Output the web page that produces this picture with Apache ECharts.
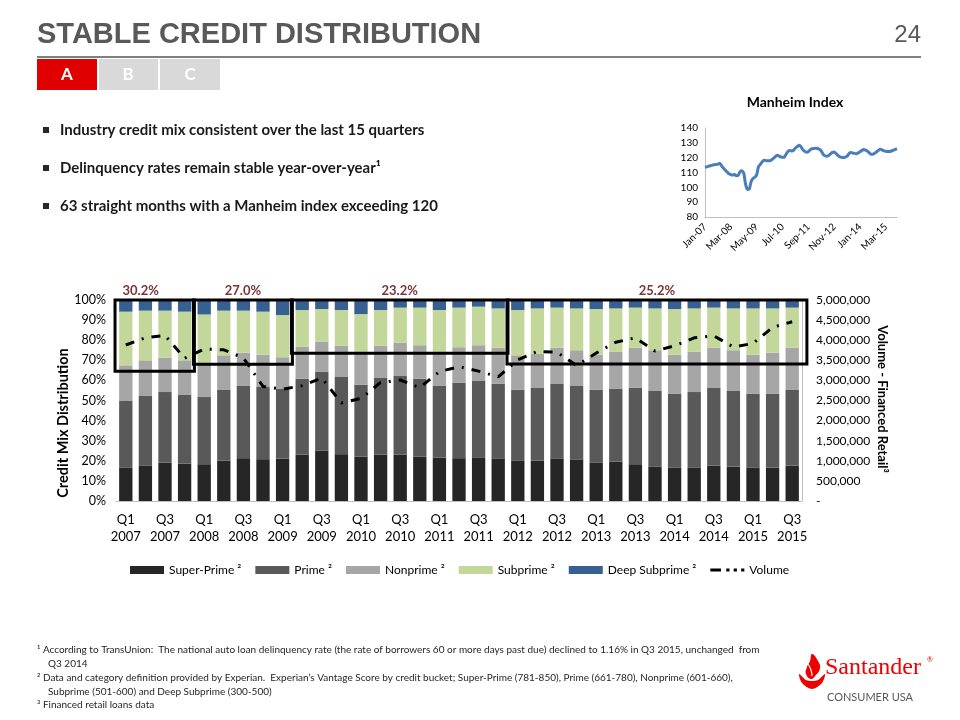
<!DOCTYPE html>
<html><head><meta charset="utf-8">
<script src="https://cdn.jsdelivr.net/npm/echarts@6/dist/echarts.min.js"></script>
<style>html,body{margin:0;padding:0;background:#fff}#c{width:960px;height:720px}#err{position:absolute;left:250px;top:230px;width:700px;font:10px monospace;color:#c00;white-space:pre-wrap}</style>
</head><body><div id="c"></div><div id="err"></div>
<script>
const quarters = ['Q1 2007','Q2 2007','Q3 2007','Q4 2007','Q1 2008','Q2 2008','Q3 2008','Q4 2008',
  'Q1 2009','Q2 2009','Q3 2009','Q4 2009','Q1 2010','Q2 2010','Q3 2010','Q4 2010',
  'Q1 2011','Q2 2011','Q3 2011','Q4 2011','Q1 2012','Q2 2012','Q3 2012','Q4 2012',
  'Q1 2013','Q2 2013','Q3 2013','Q4 2013','Q1 2014','Q2 2014','Q3 2014','Q4 2014',
  'Q1 2015','Q2 2015','Q3 2015'];
const superPrime = [16.7,17.7,19.0,18.5,18.3,20.0,21.3,20.8,21.0,23.0,25.0,23.3,22.0,23.0,23.0,22.0,21.5,21.3,21.7,21.2,20.2,20.0,21.2,20.7,19.2,19.5,18.3,17.2,16.7,16.7,17.5,17.0,16.7,16.5,17.5];
const prime      = [33.3,34.8,35.2,34.5,33.4,35.5,36.2,35.9,34.8,37.8,39.2,38.4,35.8,38.2,39.2,38.8,36.0,37.5,38.0,37.1,35.1,36.2,37.0,36.5,36.1,36.3,38.0,37.8,36.6,37.5,38.7,38.0,36.6,36.8,38.0];
const nonprime   = [17.5,17.5,17.1,17.0,16.3,17.0,16.3,16.1,15.7,15.9,15.0,15.5,16.4,16.0,16.5,16.7,16.7,17.7,17.8,17.9,17.2,17.1,18.0,17.8,17.5,18.4,19.9,20.0,19.5,20.0,20.1,20.0,19.5,20.5,20.7];
const subprime   = [26.7,24.7,23.4,24.2,24.8,22.2,20.9,21.4,21.0,18.3,16.3,17.8,18.8,17.8,17.5,18.7,20.8,19.7,19.2,19.6,22.5,22.5,20.0,20.8,22.7,21.6,20.0,20.8,22.7,21.6,19.9,20.8,23.0,22.0,20.0];
const deepSub    = [5.8,5.3,5.3,5.8,7.2,5.3,5.3,5.8,7.5,5.0,4.5,5.0,7.0,5.0,3.8,3.8,5.0,3.8,3.3,4.2,5.0,4.2,3.8,4.2,4.5,4.2,3.8,4.2,4.5,4.2,3.8,4.2,4.2,4.2,3.8];
const volume     = [3880000,4060000,4120000,3550000,3780000,3760000,3560000,2850000,2780000,2870000,3060000,2440000,2550000,2950000,3010000,2820000,3220000,3340000,3230000,3090000,3510000,3720000,3700000,3370000,3680000,3950000,4060000,3730000,3860000,4060000,4110000,3830000,3920000,4320000,4460000];
// Highlighted periods (quarter index ranges), lower edge (%) and average label
const boxStart  = [0, 4, 9, 20];
const boxEnd    = [3, 8, 19, 34];
const boxBottom = [64.5, 68.0, 73.5, 68.2];
const boxLabels = ['30.2%','27.0%','23.2%','25.2%'];

const monthNames = ['Jan','Feb','Mar','Apr','May','Jun','Jul','Aug','Sep','Oct','Nov','Dec'];
const manheim = [113.5,113.8,114.2,114.6,115,115.2,115.4,115.6,116.2,114.5,
  112.8,111.6,110.3,109.2,108.6,108.3,108.6,107.8,108.2,110.6,
  111.2,109.5,102,98.6,98.8,104,106,106.8,108.5,114,
  115.5,117.2,118.3,118,118,118,118.5,119.5,120.6,121.6,
  121.2,120.5,120.2,120.4,122.5,124.2,124.8,124.5,125,126.5,
  127.5,128.3,127.4,125.3,124.3,123.6,124.2,125.3,126,126.2,
  126.4,126.2,125.6,124.5,122.2,121.3,120.9,121.5,122.6,123.6,
  123.9,122.8,121.5,120.5,120.2,120.1,120.4,121,122.7,123.4,
  123.2,122.9,122.7,123.2,124,124.9,125.5,125.1,124.4,123.2,
  122.3,122.3,123,124,125,125.7,125.2,124.6,124.3,124.2,
  124.2,124.5,125,125.5,126];
const manheimMonths = manheim.map((_, i) => monthNames[i % 12] + '-' + String(7 + Math.floor(i / 12)).padStart(2, '0'));

const FONT = 'Lato, "Open Sans", sans-serif';
const errBox = document.getElementById('err');
function report(tag, e) { errBox.textContent += tag + ': ' + (e && e.stack ? e.stack.split('\n').slice(0, 4).join('\n') : e) + '\n'; }

const chart = echarts.init(document.getElementById('c'));

function barSeries(name, data, color) {
  return {name, type: 'bar', stack: 'mix', data, barWidth: '68%',
    itemStyle: {color}, xAxisIndex: 0, yAxisIndex: 0, z: 2};
}

const base = {
  animation: false,
  textStyle: {fontFamily: FONT},
  grid: [
    {left: 116, right: 158, top: 300, bottom: 219},
    {left: 705, right: 63, top: 128, bottom: 503}
  ],
  xAxis: [
    {type: 'category', gridIndex: 0, data: quarters,
     axisLabel: {interval: 1, fontSize: 13, lineHeight: 17, margin: 10, color: '#000',
       formatter: v => v.replace(' ', '\n')},
     axisTick: {show: false}, axisLine: {lineStyle: {color: '#bfbfbf'}}},
    {type: 'value', gridIndex: 0, min: -0.5, max: 34.5, show: false},
    {type: 'category', gridIndex: 1, data: manheimMonths, boundaryGap: false,
     axisLabel: {interval: 13, rotate: 45, fontSize: 10, color: '#000', margin: 8},
     axisTick: {show: false}, axisLine: {lineStyle: {color: '#bfbfbf'}}}
  ],
  yAxis: [
    {type: 'value', gridIndex: 0, min: 0, max: 100, interval: 10,
     axisLabel: {formatter: '{value}%', fontSize: 12.5, color: '#000', margin: 10},
     splitLine: {show: false}, axisTick: {show: false},
     axisLine: {show: true, lineStyle: {color: '#bfbfbf'}}},
    {type: 'value', gridIndex: 0, min: 0, max: 5000000, interval: 500000, position: 'right',
     axisLabel: {fontSize: 12, color: '#000', margin: 14, align: 'left',
       formatter: v => v === 0 ? '-' : v.toLocaleString('en-US')},
     splitLine: {show: false}, axisTick: {show: false},
     axisLine: {show: true, lineStyle: {color: '#bfbfbf'}}},
    {type: 'value', gridIndex: 1, min: 80, max: 140, interval: 10,
     axisLabel: {fontSize: 10, color: '#000', margin: 7},
     splitLine: {show: false}, axisTick: {show: false},
     axisLine: {show: true, lineStyle: {color: '#bfbfbf'}}}
  ],
  legend: {
    left: 125, top: 559, itemWidth: 34, itemHeight: 8, itemGap: 14,
    textStyle: {fontSize: 12, color: '#000', fontFamily: FONT},
    formatter: n => n === 'Volume' ? n : n + ' \u00b2',
    data: [
      {name: 'Super-Prime', icon: 'rect'}, {name: 'Prime', icon: 'rect'},
      {name: 'Nonprime', icon: 'rect'}, {name: 'Subprime', icon: 'rect'},
      {name: 'Deep Subprime', icon: 'rect'},
      {name: 'Volume', icon: 'path://M0,0h10v3h-10z M15,0h3v3h-3z M22,0h3v3h-3z M29,0h3v3h-3z'}
    ]
  },
  series: [
    barSeries('Super-Prime', superPrime, '#262626'),
    barSeries('Prime', prime, '#595959'),
    barSeries('Nonprime', nonprime, '#a6a6a6'),
    barSeries('Subprime', subprime, '#c4d79b'),
    barSeries('Deep Subprime', deepSub, '#376092'),
    {id: 'boxes', name: 'boxes', type: 'custom', xAxisIndex: 1, yAxisIndex: 0, z: 6, silent: true,
      data: boxStart.map((s, i) => [s - 0.55, boxEnd[i] + 0.5 + (i === 3 ? 0.25 : 0), boxBottom[i]]),
      renderItem: (params, api) => {
        const p0 = api.coord([api.value(0), 100]);
        const p1 = api.coord([api.value(1), api.value(2)]);
        const cx = (p0[0] + p1[0]) / 2 + (params.dataIndex === 0 ? -14 : 0);
        return {type: 'group', children: [
          {type: 'rect', shape: {x: p0[0], y: p0[1], width: p1[0] - p0[0], height: p1[1] - p0[1]},
           style: {fill: 'none', stroke: '#000', lineWidth: 3}},
          {type: 'text', x: cx, y: p0[1] - 9, style: {text: boxLabels[params.dataIndex], fill: '#7b3535',
             align: 'center', verticalAlign: 'middle', font: 'bold 13px ' + FONT}}
        ]};
      }},
    {name: 'Volume', type: 'line', xAxisIndex: 0, yAxisIndex: 1, data: volume,
     symbol: 'none', z: 10,
     lineStyle: {color: '#000', width: 3, type: [9, 8, 2, 8]},
     itemStyle: {color: '#000'}},
    {name: 'Manheim', type: 'line', xAxisIndex: 2, yAxisIndex: 2, data: manheim,
     symbol: 'none', smooth: 0.2, lineStyle: {color: '#4a7ebb', width: 3}}
  ]
};
try { chart.setOption(base); } catch (e) { report('base', e); }

const T = (x, y, text, font, extra) => ({type: 'text', x, y,
  style: Object.assign({text, font, fill: '#1a1a1a', verticalAlign: 'middle'}, extra || {})});
try {
chart.setOption({graphic: [
    T(37, 35, 'STABLE CREDIT DISTRIBUTION', 'bold 29px "Liberation Sans Narrow", "Liberation Sans", sans-serif', {fill: '#595959'}),
    T(921, 35, '24', '24px "Liberation Sans Narrow", "Liberation Sans", sans-serif', {fill: '#595959', align: 'right'}),
    {type: 'line', shape: {x1: 37, y1: 57, x2: 921, y2: 57}, style: {stroke: '#808080', lineWidth: 2}},
    {type: 'rect', shape: {x: 37, y: 59, width: 60, height: 31}, style: {fill: '#e00000'}},
    {type: 'rect', shape: {x: 99, y: 59, width: 59, height: 31}, style: {fill: '#d9d9d9'}},
    {type: 'rect', shape: {x: 160, y: 59, width: 60, height: 31}, style: {fill: '#d9d9d9'}},
    T(67, 75, 'A', 'bold 17px ' + FONT, {fill: '#fff', align: 'center'}),
    T(128, 75, 'B', 'bold 17px ' + FONT, {fill: '#fff', align: 'center'}),
    T(190, 75, 'C', 'bold 17px ' + FONT, {fill: '#fff', align: 'center'}),
    {type: 'rect', shape: {x: 43, y: 127, width: 6, height: 6}, style: {fill: '#262626'}},
    {type: 'rect', shape: {x: 43, y: 165, width: 6, height: 6}, style: {fill: '#262626'}},
    {type: 'rect', shape: {x: 43, y: 203, width: 6, height: 6}, style: {fill: '#262626'}},
    T(60, 130, 'Industry credit mix consistent over the last 15 quarters', 'bold 15px ' + FONT),
    T(60, 168, 'Delinquency rates remain stable year-over-year\u00b9', 'bold 15px ' + FONT),
    T(60, 206, '63 straight months with a Manheim index exceeding 120', 'bold 15px ' + FONT),
    T(795, 102, 'Manheim Index', 'bold 14px ' + FONT, {fill: '#000', align: 'center'}),
    Object.assign(T(63, 423, 'Credit Mix Distribution', 'bold 14.5px ' + FONT, {fill: '#000', align: 'center'}), {rotation: Math.PI / 2}),
    Object.assign(T(882, 399, 'Volume - Financed Retail\u00b3', 'bold 13px ' + FONT, {fill: '#000', align: 'center'}), {rotation: -Math.PI / 2}),
    T(37, 650, '\u00b9 According to TransUnion:  The national auto loan delinquency rate (the rate of borrowers 60 or more days past due) declined to 1.16% in Q3 2015, unchanged  from', '10px ' + FONT, {fill: '#262626'}),
    T(48, 664, 'Q3 2014', '10px ' + FONT, {fill: '#262626'}),
    T(37, 678, '\u00b2 Data and category definition provided by Experian.  Experian\u2019s Vantage Score by credit bucket; Super-Prime (781-850), Prime (661-780), Nonprime (601-660),', '10px ' + FONT, {fill: '#262626'}),
    T(48, 692, 'Subprime (501-600) and Deep Subprime (300-500)', '10px ' + FONT, {fill: '#262626'}),
    T(37, 705, '\u00b3 Financed retail loans data', '10px ' + FONT, {fill: '#262626'}),
    {type: 'polygon', shape: {points: [[799, 674], [802, 683], [812, 689], [822, 683], [825, 674], [818, 680], [812, 681], [806, 680]], smooth: 0.3}, style: {fill: '#ec0000'}},
    {type: 'polygon', shape: {points: [[812, 654], [818, 661], [820, 668], [816, 675], [811, 679], [806, 674], [807, 667], [810, 661]], smooth: 0.5}, style: {fill: '#ec0000'}},
    {type: 'polyline', shape: {points: [[808, 664], [811, 670], [812, 676]], smooth: 0.5}, style: {stroke: '#fff', lineWidth: 1.2, fill: null}},
    T(825, 668, 'Santander', '24px "Liberation Serif", serif', {fill: '#ec0000'}),
    T(927, 660, '\u00ae', '7px ' + FONT, {fill: '#ec0000'}),
    T(870, 697, 'CONSUMER USA', '11px ' + FONT, {fill: '#595959', align: 'center'})
]});
} catch (e) { report('graphic', e); }
</script></body></html>
